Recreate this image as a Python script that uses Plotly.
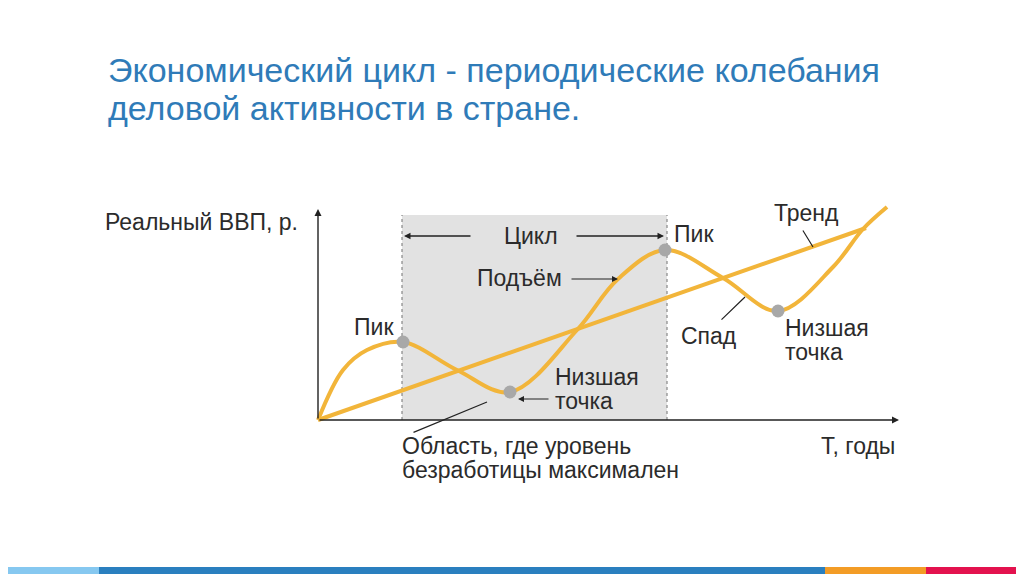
import plotly.graph_objects as go

# Diagram coordinates: T (time units) and real GDP (units)
curve_t = [0, 2.5, 4.9, 8.5, 13.9, 19.2, 25.9, 30.0, 34.7, 40.5, 46.0, 51.5, 54.5, 56.9]
curve_y = [0, 5.0, 7.0, 7.8, 5.0, 2.8, 9.0, 14.1, 17.0, 14.2, 10.9, 15.3, 19.1, 21.3]
trend_t = [0, 54.8]
trend_y = [0, 19.2]
points_t = [8.5, 19.2, 34.7, 46.0]
points_y = [7.8, 2.8, 17.0, 10.9]
cycle_start, cycle_end = 8.4, 34.9

GOLD = "#F2B53A"
TXT = "#2B2B2B"
FONT = "Liberation Sans, Arial, sans-serif"
OFF = 8  # page body margin
W, H = 1024 - OFF, 574 - OFF

def px(x):  # page pixel x -> data x
    return (x - 318) / 10.0

def py(y):  # page pixel y -> data y
    return (420 - y) / 10.0

def qx(x):  # page pixel x -> paper
    return (x - OFF) / W

def qy(y):  # page pixel y -> paper
    return 1 - (y - OFF) / H

fig = go.Figure()

# shaded cycle area
fig.add_shape(type="rect", x0=cycle_start, x1=cycle_end, y0=0, y1=py(215),
              fillcolor="#E2E2E2", line=dict(width=0), layer="below")
for xv in (cycle_start, cycle_end):
    fig.add_shape(type="line", x0=xv, x1=xv, y0=0, y1=py(215),
                  line=dict(color="#888888", width=1.2, dash="dot"), layer="below")

fig.add_trace(go.Scatter(x=trend_t, y=trend_y, mode="lines",
                         line=dict(color=GOLD, width=4), hoverinfo="skip"))
fig.add_trace(go.Scatter(x=curve_t, y=curve_y, mode="lines",
                         line=dict(color=GOLD, width=4, shape="spline", smoothing=1.0),
                         hoverinfo="skip"))
fig.add_trace(go.Scatter(x=points_t, y=points_y, mode="markers",
                         marker=dict(color="#A8A8A8", size=13), hoverinfo="skip"))

anns = []
def arrow(x0, y0, x1, y1, head=2, width=1.3):
    anns.append(dict(x=px(x1), y=py(y1), ax=px(x0), ay=py(y0), xref="x", yref="y",
                     axref="x", ayref="y", showarrow=True, arrowhead=head,
                     arrowsize=1, arrowwidth=width, arrowcolor="#222222", text=""))

def line(x0, y0, x1, y1):
    arrow(x0, y0, x1, y1, head=0, width=1.2)

# axes
arrow(318, 420, 318, 209, head=2, width=1.4)
arrow(318, 420, 899, 420, head=2, width=1.4)
# cycle arrows
arrow(472, 236, 404, 236)
arrow(575, 236, 664, 236)
# pointer lines
arrow(570, 279, 618, 279, head=2, width=1.2)
arrow(550, 399, 518, 399, head=2, width=1.2)
line(720, 321, 745, 297)
line(802, 229, 813, 247)
line(412, 433, 487, 402)

def text(x, y, s, anchor="left", size=23):
    anns.append(dict(x=px(x), y=py(y), xref="x", yref="y", text=s, showarrow=False,
                     xanchor=anchor, yanchor="middle",
                     font=dict(family=FONT, size=size, color=TXT), align="left"))

text(300, 222, "Реальный ВВП, р.", anchor="right")
text(897, 446, "Т, годы", anchor="right")
text(531, 236, "Цикл", anchor="center")
text(352, 327, "Пик")
text(672, 234, "Пик")
text(475, 278, "Подъём")
text(553, 377, "Низшая")
text(553, 401, "точка")
text(679, 336, "Спад")
text(783, 328, "Низшая")
text(783, 352, "точка")
text(772, 213, "Тренд")
text(400, 446, "Область, где уровень")
text(400, 470, "безработицы максимален")

# title
for yy, s in [(70, "Экономический цикл - периодические колебания"),
              (108, "деловой активности в стране.")]:
    anns.append(dict(x=qx(106), y=qy(yy), xref="paper", yref="paper", text=s,
                     showarrow=False, xanchor="left", yanchor="middle", align="left",
                     font=dict(family=FONT, size=34, color="#2F7BB8")))

# bottom colour bar
for x0, x1, c in [(0, 99, "#86C8F0"), (99, 825, "#2A7FBF"), (825, 926, "#F39C26"), (926, 1024, "#E3124E")]:
    fig.add_shape(type="rect", xref="paper", yref="paper", x0=max(qx(x0), 0), x1=qx(x1),
                  y0=0, y1=7 / H, fillcolor=c, line=dict(width=0))

fig.update_layout(
    width=W, height=H, margin=dict(l=0, r=0, t=0, b=0),
    paper_bgcolor="white", plot_bgcolor="white", showlegend=False,
    xaxis=dict(range=[px(OFF), px(1024)], visible=False, fixedrange=True),
    yaxis=dict(range=[py(574), py(OFF)], visible=False, fixedrange=True),
    annotations=anns,
)
fig.write_html("out.html")
